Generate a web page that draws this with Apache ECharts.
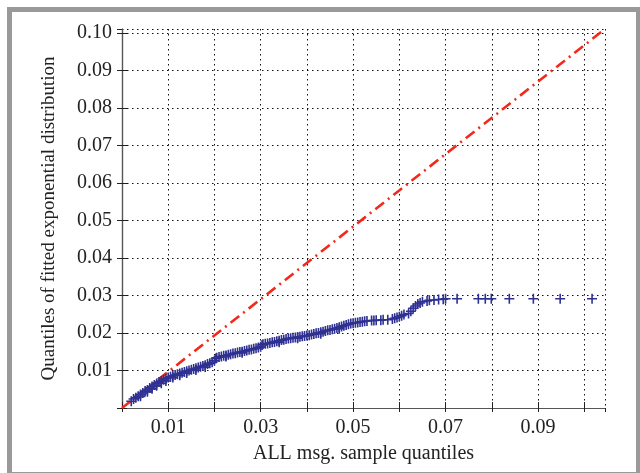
<!DOCTYPE html>
<html>
<head>
<meta charset="utf-8">
<script src="https://cdn.jsdelivr.net/npm/echarts@6/dist/echarts.min.js"></script>
<style>
html,body{margin:0;padding:0;background:#fff;}
#frame{position:absolute;left:7px;top:7px;width:634px;height:470px;box-sizing:border-box;border:5px solid #999;}
#chart{position:absolute;left:0;top:0;width:640px;height:473px;}
</style>
</head>
<body>
<div id="frame"></div>
<div id="chart"></div>
<script>
// Sample quantiles (x) and fitted exponential quantiles (y)
const sampleQ = [
0.0020,0.0025,0.0030,0.0035,0.0040,0.0045,0.0050,0.0055,0.0060,0.0065,
0.0070,0.0075,0.0080,0.0085,0.0090,0.0095,0.0100,0.0105,0.0110,0.0115,
0.0120,0.0125,0.0130,0.0135,0.0140,0.0145,0.0150,0.0155,0.0160,0.0165,
0.0170,0.0175,0.0180,0.0185,0.0190,0.0195,0.0200,0.0203,0.0205,0.0210,
0.0215,0.0220,0.0225,0.0230,0.0235,0.0240,0.0245,0.0250,0.0255,0.0260,
0.0265,0.0270,0.0275,0.0280,0.0285,0.0290,0.0295,0.0300,0.0303,0.0305,
0.0310,0.0315,0.0320,0.0325,0.0330,0.0335,0.0340,0.0345,0.0350,0.0355,
0.0360,0.0365,0.0370,0.0375,0.0380,0.0385,0.0390,0.0395,0.0400,0.0405,
0.0410,0.0415,0.0420,0.0425,0.0430,0.0435,0.0440,0.0445,0.0450,0.0455,
0.0460,0.0465,0.0470,0.0475,0.0480,0.0485,0.0490,0.0495,0.0500,0.0505,
0.0510,0.0515,0.0520,0.0525,0.0530,0.0540,0.0545,0.0550,0.0560,0.0565,
0.0575,0.0585,0.0590,0.0595,0.0600,0.0605,0.0610,0.0620,0.0625,0.0630,
0.0635,0.0640,0.0645,0.0650,0.0660,0.0665,0.0675,0.0685,0.0695,0.0700,
0.0725,0.0771,0.0786,0.0799,0.0838,0.0890,0.0948,0.1017,
0.0040,0.0055,0.0065,0.0075,0.0085,0.0095,0.0110,0.0125,0.0140,0.0160,
0.0180,0.0225,0.0260,0.0340,0.0380,0.0430,0.0470
];
const fittedQ = [
0.0018,0.0024,0.0027,0.0031,0.0036,0.0040,0.0045,0.0048,0.0053,0.0057,
0.0061,0.0065,0.0069,0.0072,0.0075,0.0078,0.0081,0.0083,0.0086,0.0088,
0.0090,0.0092,0.0094,0.0096,0.0098,0.0100,0.0102,0.0104,0.0106,0.0108,
0.0110,0.0112,0.0114,0.0117,0.0119,0.0122,0.0126,0.0132,0.0134,0.0136,
0.0137,0.0139,0.0140,0.0142,0.0143,0.0145,0.0146,0.0148,0.0149,0.0150,
0.0152,0.0153,0.0155,0.0156,0.0158,0.0159,0.0161,0.0163,0.0168,0.0170,
0.0171,0.0172,0.0173,0.0175,0.0176,0.0178,0.0179,0.0181,0.0182,0.0184,
0.0185,0.0186,0.0187,0.0188,0.0189,0.0190,0.0191,0.0192,0.0193,0.0194,
0.0196,0.0197,0.0199,0.0200,0.0202,0.0203,0.0205,0.0207,0.0208,0.0210,
0.0211,0.0213,0.0215,0.0217,0.0219,0.0221,0.0223,0.0225,0.0226,0.0227,
0.0228,0.0229,0.0230,0.0231,0.0232,0.0233,0.0233,0.0234,0.0234,0.0235,
0.0235,0.0237,0.0239,0.0241,0.0243,0.0246,0.0249,0.0252,0.0258,0.0266,
0.0272,0.0277,0.0280,0.0283,0.0285,0.0287,0.0288,0.0289,0.0290,0.0291,
0.0291,0.0291,0.0291,0.0291,0.0291,0.0291,0.0291,0.0291,
0.0031,0.0043,0.0051,0.0059,0.0066,0.0072,0.0081,0.0087,0.0093,0.0101,
0.0109,0.0137,0.0147,0.0175,0.0186,0.0198,0.0211
];
// Reference line endpoints
const refLineX = [0, 0.1045];
const refLineY = [0, 0.101];
// Axis ranges / tick step
const xRange = [0, 0.1045];
const yRange = [0, 0.101];
const tickStep = 0.01;
const xTitle = 'ALL msg. sample quantiles';
const yTitle = 'Quantiles of fitted exponential distribution';

const FONT = 'Liberation Serif';
const isStep = v => Math.abs(v / tickStep - Math.round(v / tickStep)) < 1e-6;

const scatterData = sampleQ.map((x, i) => [x, fittedQ[i]]);
const lineData = refLineX.map((x, i) => [x, refLineY[i]]);

const gridLine = { show: true, lineStyle: { color: '#111', width: 1, type: [1.5, 3.5] } };
const axisLineStyle = { show: true, lineStyle: { color: '#555', width: 1.2 } };

const chart = echarts.init(document.getElementById('chart'), null, { renderer: 'canvas' });
chart.setOption({
  backgroundColor: 'transparent',
  animation: false,
  grid: { left: 122, right: 35, top: 29, bottom: 65, containLabel: false },
  xAxis: [{
    type: 'value', min: xRange[0], max: xRange[1], interval: tickStep,
    position: 'bottom',
    name: xTitle, nameLocation: 'middle', nameGap: 36,
    nameTextStyle: { fontFamily: FONT, fontSize: 20, color: '#222' },
    axisLine: axisLineStyle,
    axisTick: { show: true, inside: true, length: 6, lineStyle: { color: '#222', width: 1 } },
    axisLabel: {
      fontFamily: FONT, fontSize: 20, color: '#222', margin: 10,
      showMaxLabel: false,
      formatter: v => (isStep(v) && Math.round(v / tickStep) % 2 === 1) ? v.toFixed(2) : ''
    },
    splitLine: gridLine
  }, {
    type: 'value', min: xRange[0], max: xRange[1], interval: tickStep,
    position: 'top',
    axisLine: axisLineStyle,
    axisTick: { show: true, inside: true, length: 4, lineStyle: { color: '#222', width: 1 } },
    axisLabel: { show: false },
    splitLine: { show: false }
  }],
  yAxis: [{
    type: 'value', min: yRange[0], max: yRange[1], interval: tickStep,
    position: 'left',
    name: yTitle, nameLocation: 'middle', nameGap: 63,
    nameTextStyle: { fontFamily: FONT, fontSize: 19, color: '#222' },
    axisLine: axisLineStyle,
    axisTick: { show: true, inside: true, length: 5, lineStyle: { color: '#222', width: 1 } },
    axisLabel: {
      fontFamily: FONT, fontSize: 20, color: '#222', margin: 10,
      showMaxLabel: false,
      formatter: v => (isStep(v) && v > 1e-9) ? v.toFixed(2) : ''
    },
    splitLine: gridLine
  }, {
    type: 'value', min: yRange[0], max: yRange[1], interval: tickStep,
    position: 'right',
    axisLine: axisLineStyle,
    axisTick: { show: true, inside: true, length: 5, lineStyle: { color: '#222', width: 1 } },
    axisLabel: { show: false },
    splitLine: { show: false }
  }],
  series: [{
    type: 'line',
    data: lineData,
    xAxisIndex: 0, yAxisIndex: 0,
    symbol: 'none',
    lineStyle: { color: '#f2291c', width: 2.6, type: [11, 5, 2, 5] },
    z: 3
  }, {
    type: 'scatter',
    data: scatterData,
    xAxisIndex: 0, yAxisIndex: 0,
    symbol: 'path://M4.2,0 H5.8 V4.2 H10 V5.8 H5.8 V10 H4.2 V5.8 H0 V4.2 H4.2 Z',
    symbolSize: 10,
    itemStyle: { color: '#2e3192', opacity: 1 },
    z: 4
  }]
});
</script>
</body>
</html>
